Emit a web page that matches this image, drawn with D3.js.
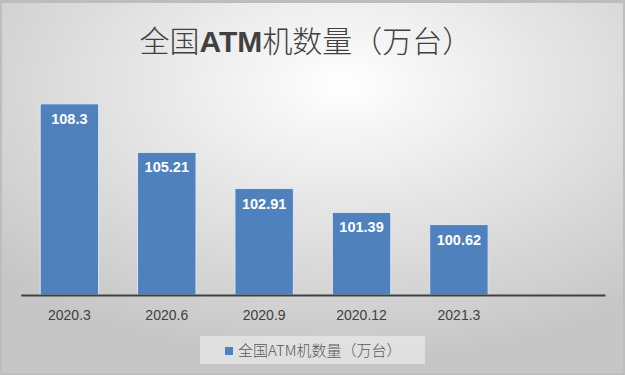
<!DOCTYPE html>
<html><head><meta charset="utf-8">
<script src="https://cdn.jsdelivr.net/npm/d3@7"></script>
<style>html,body{margin:0;padding:0;background:#fff}svg{display:block}</style>
</head><body>
<script>
const categories = ["2020.3","2020.6","2020.9","2020.12","2021.3",""];
const values = [108.3,105.21,102.91,101.39,100.62,null];
const seriesName = "全国ATM机数量（万台）";

const W = 625, H = 375;
const svg = d3.select("body").append("svg").attr("width", W).attr("height", H);
const defs = svg.append("defs");
const rg = defs.append("radialGradient").attr("id","bg")
  .attr("cx","55%").attr("cy","22%").attr("r","75%")
  .attr("fx","55%").attr("fy","22%");
rg.append("stop").attr("offset","0%").attr("stop-color","#ffffff");
rg.append("stop").attr("offset","35%").attr("stop-color","#ebebeb");
rg.append("stop").attr("offset","100%").attr("stop-color","#c6c6c6");

svg.append("rect").attr("x",0).attr("y",0).attr("width",W).attr("height",H).attr("fill","#bdbdbd");
svg.append("rect").attr("x",2).attr("y",3).attr("width",W-4).attr("height",H-5).attr("fill","url(#bg)");

const baseline = 295;
const x = d3.scaleBand().domain(categories.map((c,i)=>i)).range([20.7, 605]).paddingInner(0.4).paddingOuter(0.2);
const y = d3.scaleLinear().domain([96, 110]).range([baseline + 2.2, baseline + 2.2 - 14*15.72]);

const data = categories.map((c,i)=>({c, v: values[i], i})).filter(d=>d.v!=null);

svg.append("g").selectAll("rect").data(data).join("rect")
  .attr("x", d=>x(d.i)).attr("width", x.bandwidth())
  .attr("y", d=>y(d.v)).attr("height", d=>baseline - y(d.v))
  .attr("fill","#4f81bd").attr("stroke","#dce6f0").attr("stroke-width",1);

svg.append("g").selectAll("text").data(data).join("text")
  .attr("x", d=>x(d.i)+x.bandwidth()/2).attr("y", d=>y(d.v)+20)
  .attr("text-anchor","middle").attr("fill","#ffffff")
  .attr("font-family","'Liberation Sans', Arial, sans-serif").attr("font-weight","bold").attr("font-size","14.5px")
  .text(d=>d.v);

const xAxis = d3.axisBottom(x).tickSize(0).tickPadding(15).tickFormat(i=>categories[i]);
const gx = svg.append("g").attr("transform",`translate(0,${baseline})`).call(xAxis);
gx.select(".domain").attr("stroke","#404040").attr("stroke-width",2.2);
gx.selectAll("text").attr("font-family","'Liberation Sans', Arial, sans-serif").attr("font-size","14px").attr("fill","#404040");

const title = svg.append("text").attr("x",306).attr("y",52).attr("text-anchor","middle")
  .attr("font-family","'Noto Sans CJK SC', sans-serif").attr("font-weight","300").attr("font-size","30px").attr("fill","#404040");
title.append("tspan").text("全国");
title.append("tspan").attr("font-weight","bold").attr("font-family","'Liberation Sans', Arial, sans-serif").text("ATM");
title.append("tspan").text("机数量（万台）");

const lg = svg.append("g");
lg.append("rect").attr("x",200).attr("y",336).attr("width",225).attr("height",28).attr("fill","#e6e6e6").attr("opacity",0.8);
lg.append("rect").attr("x",225).attr("y",347).attr("width",8).attr("height",8).attr("fill","#4f81bd");
lg.append("text").attr("x",238).attr("y",356).attr("font-family","'Noto Sans CJK SC', sans-serif").attr("font-weight","300")
  .attr("font-size","15px").attr("fill","#595959").text(seriesName);
</script>
</body></html>
